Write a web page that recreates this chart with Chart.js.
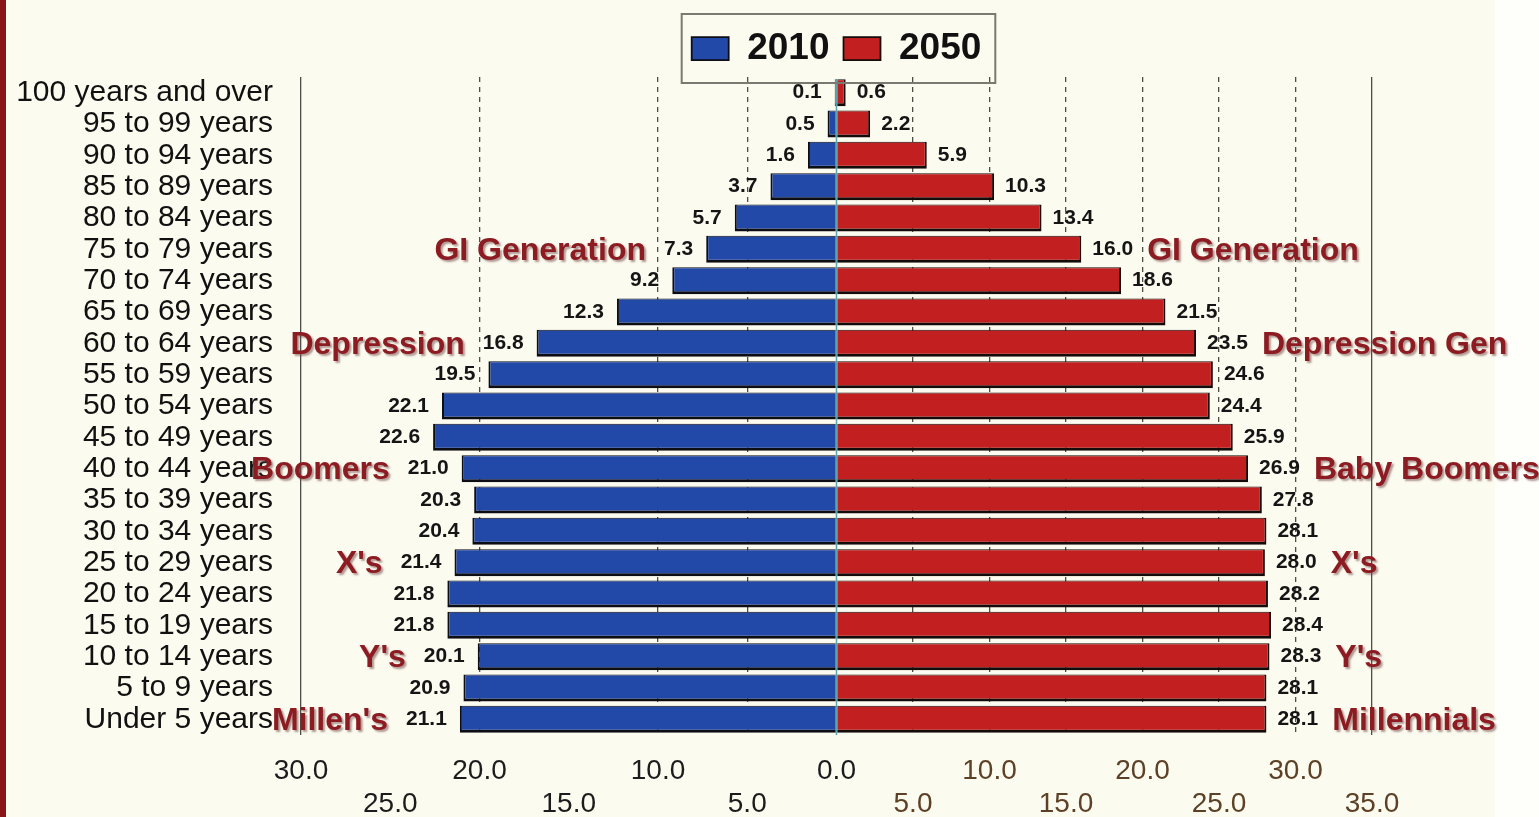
<!DOCTYPE html>
<html>
<head>
<meta charset="utf-8">
<script src="https://cdn.jsdelivr.net/npm/chart.js@4.4.1/dist/chart.umd.min.js"></script>
<style>
  html, body { margin: 0; padding: 0; }
  body {
    width: 1539px; height: 817px; overflow: hidden;
    background: linear-gradient(to right, #8a1518 0 6px, #fcfbef 6px 1495px, #fefefb 1495px);
  }
  #wrap { position: relative; width: 1539px; height: 817px; }
</style>
</head>
<body>
<div id="wrap"><canvas id="pyramid" width="1539" height="817"></canvas></div>
<script>
const ageGroups = [
  '100 years and over', '95 to 99 years', '90 to 94 years', '85 to 89 years',
  '80 to 84 years', '75 to 79 years', '70 to 74 years', '65 to 69 years',
  '60 to 64 years', '55 to 59 years', '50 to 54 years', '45 to 49 years',
  '40 to 44 years', '35 to 39 years', '30 to 34 years', '25 to 29 years',
  '20 to 24 years', '15 to 19 years', '10 to 14 years', '5 to 9 years', 'Under 5 years'
];
const pop2010 = [0.1, 0.5, 1.6, 3.7, 5.7, 7.3, 9.2, 12.3, 16.8, 19.5, 22.1, 22.6,
                 21.0, 20.3, 20.4, 21.4, 21.8, 21.8, 20.1, 20.9, 21.1];
const pop2050 = [0.6, 2.2, 5.9, 10.3, 13.4, 16.0, 18.6, 21.5, 23.5, 24.6, 24.4, 25.9,
                 26.9, 27.8, 28.1, 28.0, 28.2, 28.4, 28.3, 28.1, 28.1];

// generation notes beside the bars: [row, text] for each side
const leftNotes = [
  ['75 to 79 years', 'GI Generation'], ['60 to 64 years', 'Depression'],
  ['40 to 44 years', 'Boomers'], ['25 to 29 years', "X's"],
  ['10 to 14 years', "Y's"], ['Under 5 years', "Millen's"]
];
const rightNotes = [
  ['75 to 79 years', 'GI Generation'], ['60 to 64 years', 'Depression Gen'],
  ['40 to 44 years', 'Baby Boomers'], ['25 to 29 years', "X's"],
  ['10 to 14 years', "Y's"], ['Under 5 years', 'Millennials']
];

const LABEL_FONT = 'bold 21px "Liberation Sans", Arial, sans-serif';
const NOTE_FONT = 'bold 32px "Liberation Sans", Arial, sans-serif';

// value labels at bar ends + generation notes
const barLabels = {
  id: 'barLabels',
  afterDatasetsDraw(chart) {
    const ctx = chart.ctx;
    const y = chart.scales.y;
    ctx.save();
    // center line
    const cx = chart.scales.xL.getPixelForValue(0);
    ctx.strokeStyle = '#5aa3ad';
    ctx.lineWidth = 1.5;
    ctx.beginPath();
    ctx.moveTo(cx, chart.chartArea.top + 2);
    ctx.lineTo(cx, chart.chartArea.bottom);
    ctx.stroke();

    ctx.font = LABEL_FONT;
    ctx.fillStyle = '#151515';
    ctx.textBaseline = 'middle';
    const ends = [[], []];
    chart.data.datasets.forEach((ds, di) => {
      chart.getDatasetMeta(di).data.forEach((bar, i) => {
        const txt = ds.data[i].toFixed(1);
        const w = ctx.measureText(txt).width;
        if (di === 0) {
          ctx.textAlign = 'right';
          ctx.fillText(txt, bar.x - 13, bar.y);
          ends[0][i] = bar.x - 13 - w;
        } else {
          ctx.textAlign = 'left';
          ctx.fillText(txt, bar.x + 11, bar.y);
          ends[1][i] = bar.x + 11 + w;
        }
      });
    });

    ctx.font = NOTE_FONT;
    ctx.fillStyle = '#8c1b22';
    ctx.shadowColor = 'rgba(110,70,70,0.55)';
    ctx.shadowOffsetX = 2;
    ctx.shadowOffsetY = 2;
    ctx.shadowBlur = 2;
    leftNotes.forEach(([row, txt]) => {
      const i = ageGroups.indexOf(row);
      ctx.textAlign = 'right';
      ctx.fillText(txt, ends[0][i] - 18, y.getPixelForValue(i) + 2);
    });
    rightNotes.forEach(([row, txt]) => {
      const i = ageGroups.indexOf(row);
      ctx.textAlign = 'left';
      ctx.fillText(txt, ends[1][i] + 14, y.getPixelForValue(i) + 2);
    });
    ctx.restore();
  }
};

// frame around the legend
const legendFrame = {
  id: 'legendFrame',
  afterDraw(chart) {
    const boxes = chart.legend.legendHitBoxes;
    if (!boxes || !boxes.length) return;
    const first = boxes[0], last = boxes[boxes.length - 1];
    const ctx = chart.ctx;
    ctx.save();
    ctx.strokeStyle = '#7a7a72';
    ctx.lineWidth = 2;
    ctx.strokeRect(first.left - 10, first.top - 16, last.left + last.width - first.left + 24, first.height + 32);
    ctx.restore();
  }
};

const leftGrid = [5, 10, 20, 30];
const rightGrid = [5, 10, 15, 20, 25, 30, 35];

function tickRows(v) {
  const s = Math.abs(v).toFixed(1);
  return v % 10 === 0 ? [s, ''] : ['', s];
}

new Chart(document.getElementById('pyramid'), {
  type: 'bar',
  data: {
    labels: ageGroups,
    datasets: [{
      label: '2010',
      data: pop2010,
      xAxisID: 'xL',
      backgroundColor: '#2349a8',
      borderColor: '#0d0d14',
      borderWidth: { top: 1, left: 2, bottom: 3, right: 1 },
      borderSkipped: 'start',
      categoryPercentage: 0.86,
      barPercentage: 1
    }, {
      label: '2050',
      data: pop2050,
      xAxisID: 'xR',
      backgroundColor: '#c11f20',
      borderColor: '#140b0b',
      borderWidth: { top: 1, right: 2, bottom: 3, left: 1 },
      borderSkipped: 'start',
      categoryPercentage: 0.86,
      barPercentage: 1
    }]
  },
  options: {
    indexAxis: 'y',
    responsive: false,
    animation: false,
    layout: { padding: { top: 16, right: 167, bottom: 0, left: 0 } },
    scales: {
      y: {
        stacked: true,
        grid: { display: false, drawTicks: false },
        border: { display: false },
        ticks: {
          autoSkip: false,
          padding: 28,
          color: '#111',
          font: { family: '"Liberation Sans", Arial, sans-serif', size: 30 }
        },
        afterFit(scale) { scale.width = 301; }
      },
      xL: {
        type: 'linear',
        position: 'bottom',
        reverse: true,
        min: -30,
        max: 30,
        border: {
          display: false,
          dash: ctx => ctx.tick && ctx.tick.value === 30 ? [] : [5, 5]
        },
        grid: {
          drawTicks: false,
          lineWidth: 1.3,
          color: ctx => leftGrid.includes(ctx.tick && ctx.tick.value) ? '#4e4e48' : 'rgba(0,0,0,0)'
        },
        ticks: {
          stepSize: 5,
          autoSkip: false,
          maxRotation: 0,
          padding: 20,
          color: '#1c1c1c',
          font: { family: '"Liberation Sans", Arial, sans-serif', size: 28, lineHeight: 1.18 },
          callback: v => v >= 0 ? tickRows(v) : ''
        },
        afterFit(scale) { scale.height = 82; }
      },
      xR: {
        type: 'linear',
        // sits on the bottom edge of the category axis, sharing the row of xL
        position: { y: ageGroups.length - 0.5 },
        min: -35,
        max: 35,
        border: {
          display: false,
          dash: ctx => ctx.tick && ctx.tick.value === 35 ? [] : [5, 5]
        },
        grid: {
          drawTicks: false,
          lineWidth: 1.3,
          color: ctx => rightGrid.includes(ctx.tick && ctx.tick.value) ? '#4e4e48' : 'rgba(0,0,0,0)'
        },
        ticks: {
          stepSize: 5,
          autoSkip: false,
          maxRotation: 0,
          padding: 20,
          color: '#5c4127',
          font: { family: '"Liberation Sans", Arial, sans-serif', size: 28, lineHeight: 1.18 },
          callback: v => v > 0 ? tickRows(v) : ''
        }
      }
    },
    plugins: {
      legend: {
        position: 'top',
        fullSize: false,
        labels: {
          boxWidth: 37,
          boxHeight: 23,
          padding: 14,
          color: '#111',
          font: { family: '"Liberation Sans", Arial, sans-serif', size: 37, weight: 'bold' }
        }
      },
      tooltip: { enabled: false }
    }
  },
  plugins: [barLabels, legendFrame]
});
</script>
</body>
</html>
